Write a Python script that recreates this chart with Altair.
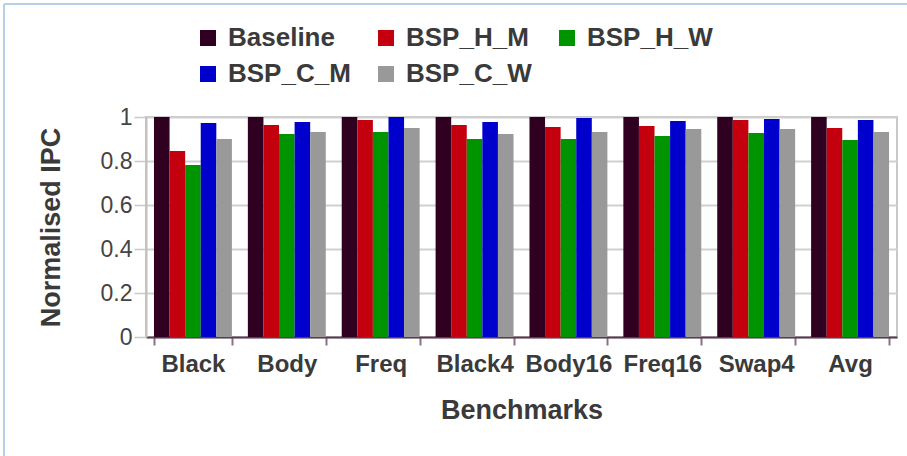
import altair as alt
import pandas as pd

benchmarks = ["Black", "Body", "Freq", "Black4", "Body16", "Freq16", "Swap4", "Avg"]
series = ["Baseline", "BSP_H_M", "BSP_H_W", "BSP_C_M", "BSP_C_W"]
colors = ["#300020", "#c4000e", "#009400", "#0000cc", "#999999"]

baseline = [1, 1, 1, 1, 1, 1, 1, 1]
bsp_h_m = [0.845, 0.964, 0.986, 0.964, 0.955, 0.959, 0.986, 0.95]
bsp_h_w = [0.782, 0.923, 0.932, 0.900, 0.900, 0.914, 0.927, 0.895]
bsp_c_m = [0.973, 0.977, 1.0, 0.977, 0.995, 0.982, 0.991, 0.986]
bsp_c_w = [0.900, 0.932, 0.950, 0.923, 0.932, 0.945, 0.945, 0.932]

values = [baseline, bsp_h_m, bsp_h_w, bsp_c_m, bsp_c_w]
rows = []
for s, vals in zip(series, values):
    for b, v in zip(benchmarks, vals):
        rows.append({"Benchmark": b, "Series": s, "IPC": v})
df = pd.DataFrame(rows)

FONT = "Liberation Sans"

bars = alt.Chart(df).mark_bar(stroke=None).encode(
    x=alt.X("Benchmark:N", sort=benchmarks,
            scale=alt.Scale(paddingInner=0.17, paddingOuter=0.085),
            axis=alt.Axis(title="Benchmarks", labelAngle=0, labelFont=FONT,
                          labelFontSize=24, labelFontWeight="bold", labelColor="#3a3a3a",
                          labelPadding=7, titleFont=FONT, titleFontSize=27,
                          titleFontWeight="bold", titleColor="#3a3a3a", titlePadding=21,
                          domainColor="#5a3a52", domainWidth=2, tickColor="#8a7088",
                          tickSize=8, tickWidth=2, tickBand="extent", grid=False)),
    xOffset=alt.XOffset("Series:N", sort=series, scale=alt.Scale(paddingInner=0, paddingOuter=0)),
    y=alt.Y("IPC:Q", scale=alt.Scale(domain=[0, 1], nice=False),
            axis=alt.Axis(title="Normalised IPC", values=[0, 0.2, 0.4, 0.6, 0.8, 1],
                          labelExpr="datum.value == 0 ? '0' : datum.value == 1 ? '1' : format(datum.value, '.1f')",
                          labelFont=FONT, labelFontSize=23, labelColor="#444444",
                          labelPadding=2, titleFont=FONT, titleFontSize=27,
                          titleFontWeight="bold", titleColor="#3a3a3a", titlePadding=35,
                          domainColor="#c0c0c0", domainWidth=2, tickColor="#c8c8c8",
                          tickSize=12, tickWidth=1.5, gridColor="#d0d0d0", gridWidth=2)),
    color=alt.Color("Series:N", sort=series,
                    scale=alt.Scale(domain=series, range=colors),
                    legend=alt.Legend(title=None, orient="none", legendX=49, legendY=-92,
                                      columns=3, direction="horizontal",
                                      symbolType="square", symbolSize=256,
                                      symbolStrokeWidth=0, labelFont=FONT,
                                      labelFontSize=26, labelFontWeight="bold",
                                      labelColor="#3a3a3a", labelOffset=7,
                                      columnPadding=22, rowPadding=10, padding=0,
                                      labelLimit=300)),
)

frame_left = alt.Chart(df).mark_rule(color="#b8cfe8", strokeWidth=1).encode(
    x=alt.value(-142), y=alt.value(-113), y2=alt.value(345))
frame_top = alt.Chart(df).mark_rule(color="#b8cfe8", strokeWidth=1).encode(
    x=alt.value(-142), x2=alt.value(770), y=alt.value(-113))

chart = alt.layer(bars, frame_left, frame_top).properties(
    width=751, height=220,
    padding={"left": 146, "top": 117, "right": 10, "bottom": 119},
    autosize=alt.AutoSizeParams(type="none"),
    background="white",
).configure_view(stroke="#c8c8c8", strokeWidth=2)

chart.save("out.html", embed_options={"renderer": "svg", "actions": False})
